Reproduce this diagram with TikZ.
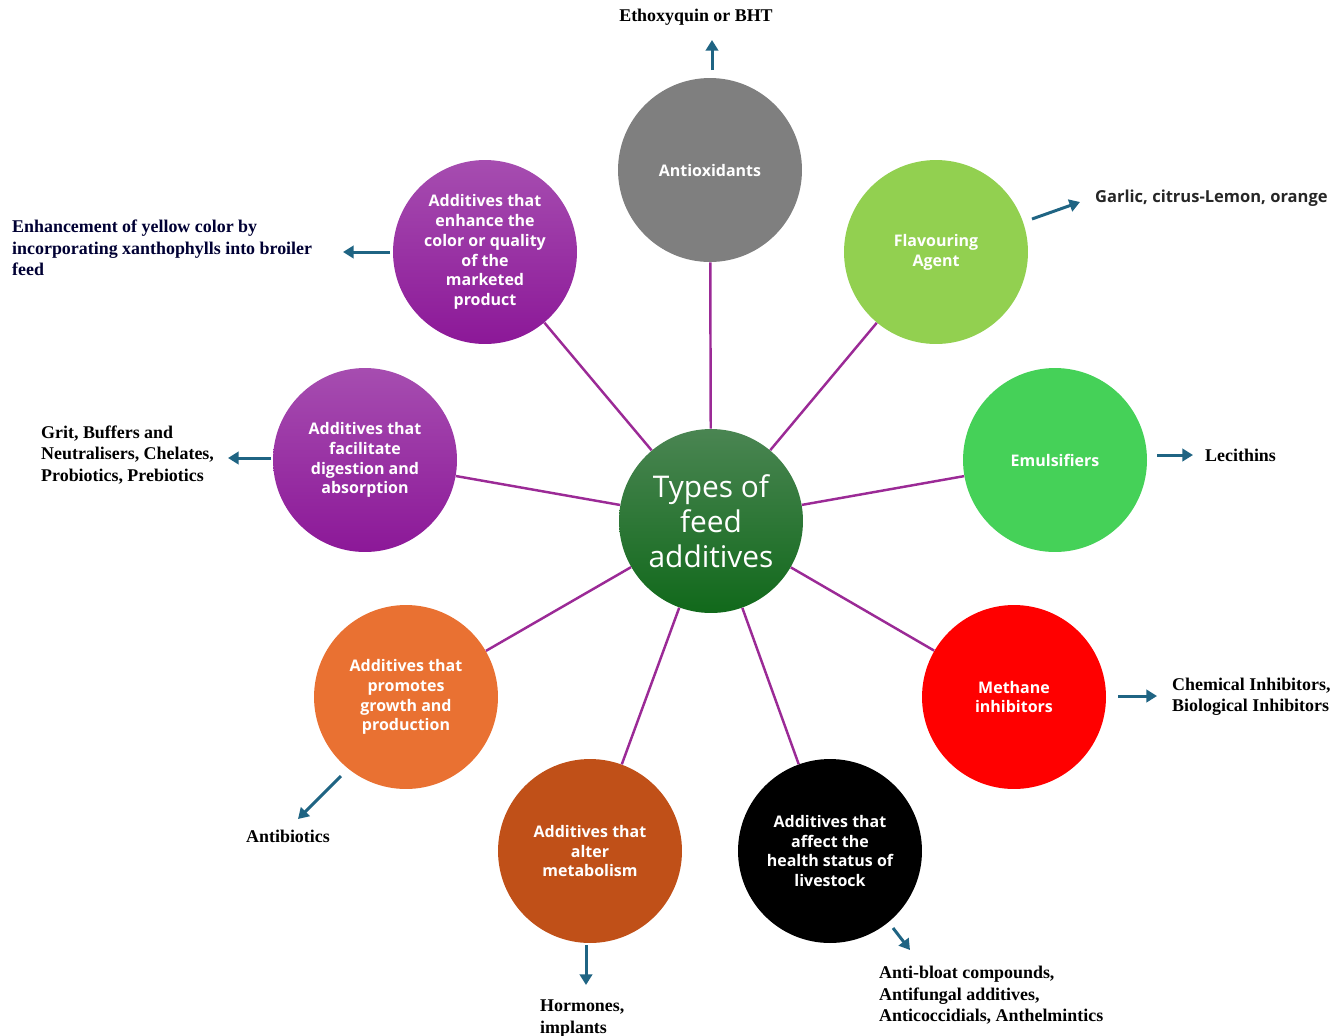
\documentclass[tikz,border=0pt]{standalone}
\usepackage{fontspec}
\setmainfont{Liberation Serif}
\newfontfamily\circfont{Open Sans}
\usetikzlibrary{arrows.meta}
\definecolor{spokec}{HTML}{9B2A96}
\definecolor{arrowc}{HTML}{1F6483}
\definecolor{antic}{HTML}{7F7F7F}
\definecolor{flavc}{HTML}{92D050}
\definecolor{emulc}{HTML}{45D158}
\definecolor{methc}{HTML}{FF0000}
\definecolor{metabc}{HTML}{C05018}
\definecolor{growthc}{HTML}{E97132}
\definecolor{purptop}{HTML}{A64DB0}
\definecolor{purpbot}{HTML}{8C1898}
\definecolor{hubtop}{HTML}{4A8552}
\definecolor{hubbot}{HTML}{11691B}
\begin{document}
\begin{tikzpicture}[x=0.02cm,y=-0.02cm,
  bubble/.style={circle,minimum size=3.68cm,inner sep=0pt,align=center,text=white,font=\circfont\bfseries\fontsize{9.1}{11.2}\selectfont},
  spoke/.style={draw=spokec,line width=1.4pt},
  outarrow/.style={draw=arrowc,line width=1.7pt,-{Triangle[length=6pt,width=7pt]}},
  note/.style={font=\bfseries\fontsize{10.2}{12.2}\selectfont,align=left}]
\useasboundingbox (0,0) rectangle (1334,1035);
\node[bubble,top color=hubtop,bottom color=hubbot,font=\circfont\fontsize{17}{19.8}\selectfont] (hub) at (711,521) {Types of\\feed\\additives};
\node[bubble,fill=antic] (anti) at (710,170) {Antioxidants};
\node[bubble,fill=flavc] (flav) at (936,252) {Flavouring\\Agent};
\node[bubble,fill=emulc] (emul) at (1055,460) {Emulsifiers};
\node[bubble,fill=methc] (meth) at (1014,697) {Methane\\inhibitors};
\node[bubble,fill=black] (health) at (830,851) {Additives that\\affect the\\health status of\\livestock};
\node[bubble,fill=metabc] (metab) at (590,851) {Additives that\\alter\\metabolism};
\node[bubble,fill=growthc] (growth) at (406,697) {Additives that\\promotes\\growth and\\production};
\node[bubble,top color=purptop,bottom color=purpbot] (digest) at (365,460) {Additives that\\facilitate\\digestion and\\absorption};
\node[bubble,top color=purptop,bottom color=purpbot] (colour) at (485,252) {Additives that\\enhance the\\color or quality\\of the\\marketed\\product};
\foreach \n in {anti,flav,emul,meth,health,metab,growth,digest,colour} {
  \draw[spoke] (hub) -- (\n);
}
\foreach \n/\ax/\ay/\bx/\by in {anti/712/70/712/40,flav/1032/219/1080/202,emul/1157/455/1193/455,meth/1118/696/1157/696,health/893/928/910/950,metab/586/945/586/985,growth/341/776/298/819,digest/271/458/228/458,colour/390/252/343/252} {
  \coordinate (\n tail) at (\ax,\ay);
  \coordinate (\n head) at (\bx,\by);
  \draw[outarrow] (\n tail) -- (\n head);
}
\node[note] (antinote) at (696,17) {Ethoxyquin or BHT};
\node[anchor=west,font=\circfont\bfseries\fontsize{9.4}{11}\selectfont,text=black!85] (flavnote) at (1089,198) {Garlic, citrus-Lemon, orange};
\node[note,anchor=west] (emulnote) at (1199,455) {Lecithins};
\node[note,anchor=west] (methnote) at (1166,697) {Chemical Inhibitors,\\Biological Inhibitors};
\node[note,anchor=north west] (healthnote) at (873,960) {Anti-bloat compounds,\\Antifungal additives,\\Anticoccidials, Anthelmintics};
\node[note,anchor=north west] (metabnote) at (534,994) {Hormones,\\implants};
\node[note] (growthnote) at (288,836) {Antibiotics};
\node[note,anchor=west] (digestnote) at (35,455) {Grit, Buffers and\\Neutralisers, Chelates,\\Probiotics, Prebiotics};
\node[note,anchor=west,text=black!80!blue] (colournote) at (6,248) {Enhancement of yellow color by\\incorporating xanthophylls into broiler\\feed};
\end{tikzpicture}
\end{document}
